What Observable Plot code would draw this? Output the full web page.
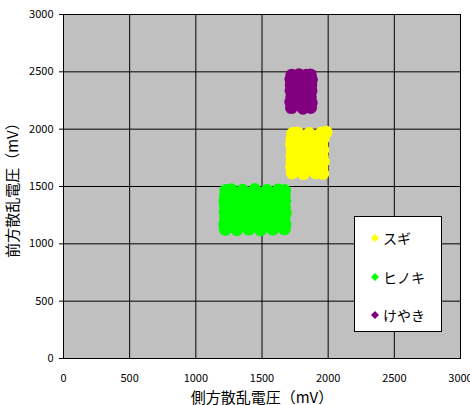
<!DOCTYPE html>
<html><head><meta charset="utf-8">
<script src="https://cdn.jsdelivr.net/npm/d3@7"></script>
<script src="https://cdn.jsdelivr.net/npm/@observablehq/plot@0.6"></script>
<style>
body{margin:0;background:#fff}
#wrap{position:relative;width:470px;height:405px;font-family:"Noto Sans CJK JP",sans-serif}
#legend{position:absolute;left:354px;top:216px;width:88px;height:116px;background:#fff;border:1px solid #000;box-sizing:border-box}
.li{position:absolute;left:16px;height:20px;display:flex;align-items:center;font-size:14px;color:#000}
.li svg{margin-right:4px}
</style>
</head><body><div id="wrap"></div>
<script>
const xTicks = [0, 500, 1000, 1500, 2000, 2500, 3000];
const yTicks = [0, 500, 1000, 1500, 2000, 2500, 3000];
const seriesNames = ["スギ", "ヒノキ", "けやき"];
const seriesColors = ["#ffff00", "#00ff00", "#800080"];
const xLabel = "側方散乱電圧（mV）";
const yLabel = "前方散乱電圧（mV）";

const sugi = [
  [1728,1617],[1813,1612],[1906,1618],[1960,1614],
  [1723,1667],[1771,1662],[1862,1668],[1953,1664],
  [1727,1713],[1816,1718],[1902,1712],[1964,1717],
  [1725,1767],[1768,1763],[1858,1769],[1956,1762],
  [1729,1814],[1812,1819],[1907,1813],[1961,1818],
  [1722,1866],[1773,1861],[1861,1867],[1952,1863],
  [1726,1917],[1817,1912],[1903,1918],[1963,1914],
  [1731,1963],[1769,1968],[1857,1962],[1949,1967],[1985,1975]
];
const hinoki = [
  [1222,1126],[1310,1122],[1401,1128],[1489,1121],[1581,1127],[1669,1130],
  [1218,1170],[1264,1166],[1356,1174],[1447,1168],[1535,1172],[1627,1165],[1674,1171],
  [1225,1222],[1312,1218],[1398,1225],[1492,1217],[1579,1223],[1667,1220],
  [1221,1268],[1268,1273],[1353,1266],[1444,1272],[1538,1269],[1624,1274],[1676,1267],
  [1223,1321],[1307,1316],[1403,1323],[1486,1318],[1584,1324],[1670,1319],
  [1219,1372],[1262,1367],[1358,1374],[1449,1366],[1533,1371],[1629,1368],[1673,1375],
  [1224,1418],[1313,1423],[1396,1417],[1491,1422],[1577,1419],[1668,1424],
  [1226,1466],[1267,1472],[1354,1469],[1446,1474],[1537,1467],[1622,1471],[1671,1465]
];
const keyaki = [
  [1722,2187],[1810,2182],[1868,2189],
  [1717,2236],[1764,2232],[1853,2238],[1873,2231],
  [1724,2283],[1806,2288],[1866,2282],
  [1719,2337],[1767,2333],[1856,2339],[1871,2334],
  [1721,2384],[1811,2389],[1869,2383],
  [1718,2436],[1762,2432],[1852,2438],[1874,2433],
  [1725,2470],[1779,2475],[1835,2471],[1866,2474]
];

const groups = [sugi, hinoki, keyaki];
const data = groups.flatMap((g, i) => g.map(([x, y]) => ({x, y, s: seriesNames[i]})));

const chart = Plot.plot({
  width: 470, height: 405,
  marginLeft: 63, marginRight: 10, marginTop: 14, marginBottom: 47,
  style: {background: "transparent", fontFamily: "'Noto Sans CJK JP', sans-serif", fontSize: "11px", color: "#000"},
  x: {domain: [0, 3000]},
  y: {domain: [0, 3000]},
  color: {domain: seriesNames, range: seriesColors},
  marks: [
    Plot.frame({fill: "#c0c0c0"}),
    Plot.gridX(xTicks, {stroke: "#000", strokeOpacity: 1}),
    Plot.gridY(yTicks, {stroke: "#000", strokeOpacity: 1}),
    Plot.frame({stroke: "#000"}),
    Plot.dot(data, {x: "x", y: "y", fill: "s", symbol: "circle", r: 6.4}),
    Plot.axisX(xTicks, {tickSize: 0, tickPadding: 16, tickFormat: d => String(d), label: xLabel, labelArrow: "none", labelAnchor: "center", labelOffset: 44, fontSize: 11}),
    Plot.axisY(yTicks, {tickSize: 4, tickPadding: 6, tickFormat: d => String(d), label: yLabel, labelArrow: "none", labelAnchor: "center", labelOffset: 56, fontSize: 11})
  ]
});
const wrap = document.getElementById("wrap");
wrap.appendChild(chart);
chart.querySelectorAll("g[aria-label='x-axis label'] text, g[aria-label='y-axis label'] text").forEach(t => {
  t.setAttribute("font-size", "15");
  t.textContent = t.textContent.replace(/\s*[→↑←↓]\s*/g, "");
});

const legend = document.createElement("div");
legend.id = "legend";
const tops = [11, 50, 88];
seriesNames.forEach((n, i) => {
  const it = document.createElement("div");
  it.className = "li";
  it.style.top = tops[i] + "px";
  it.innerHTML = `<svg width="8" height="8" viewBox="-4 -4 8 8"><path d="M0,-4L4,0L0,4L-4,0Z" fill="${seriesColors[i]}"/></svg><span>${n}</span>`;
  legend.appendChild(it);
});
wrap.appendChild(legend);
</script>
</body></html>
